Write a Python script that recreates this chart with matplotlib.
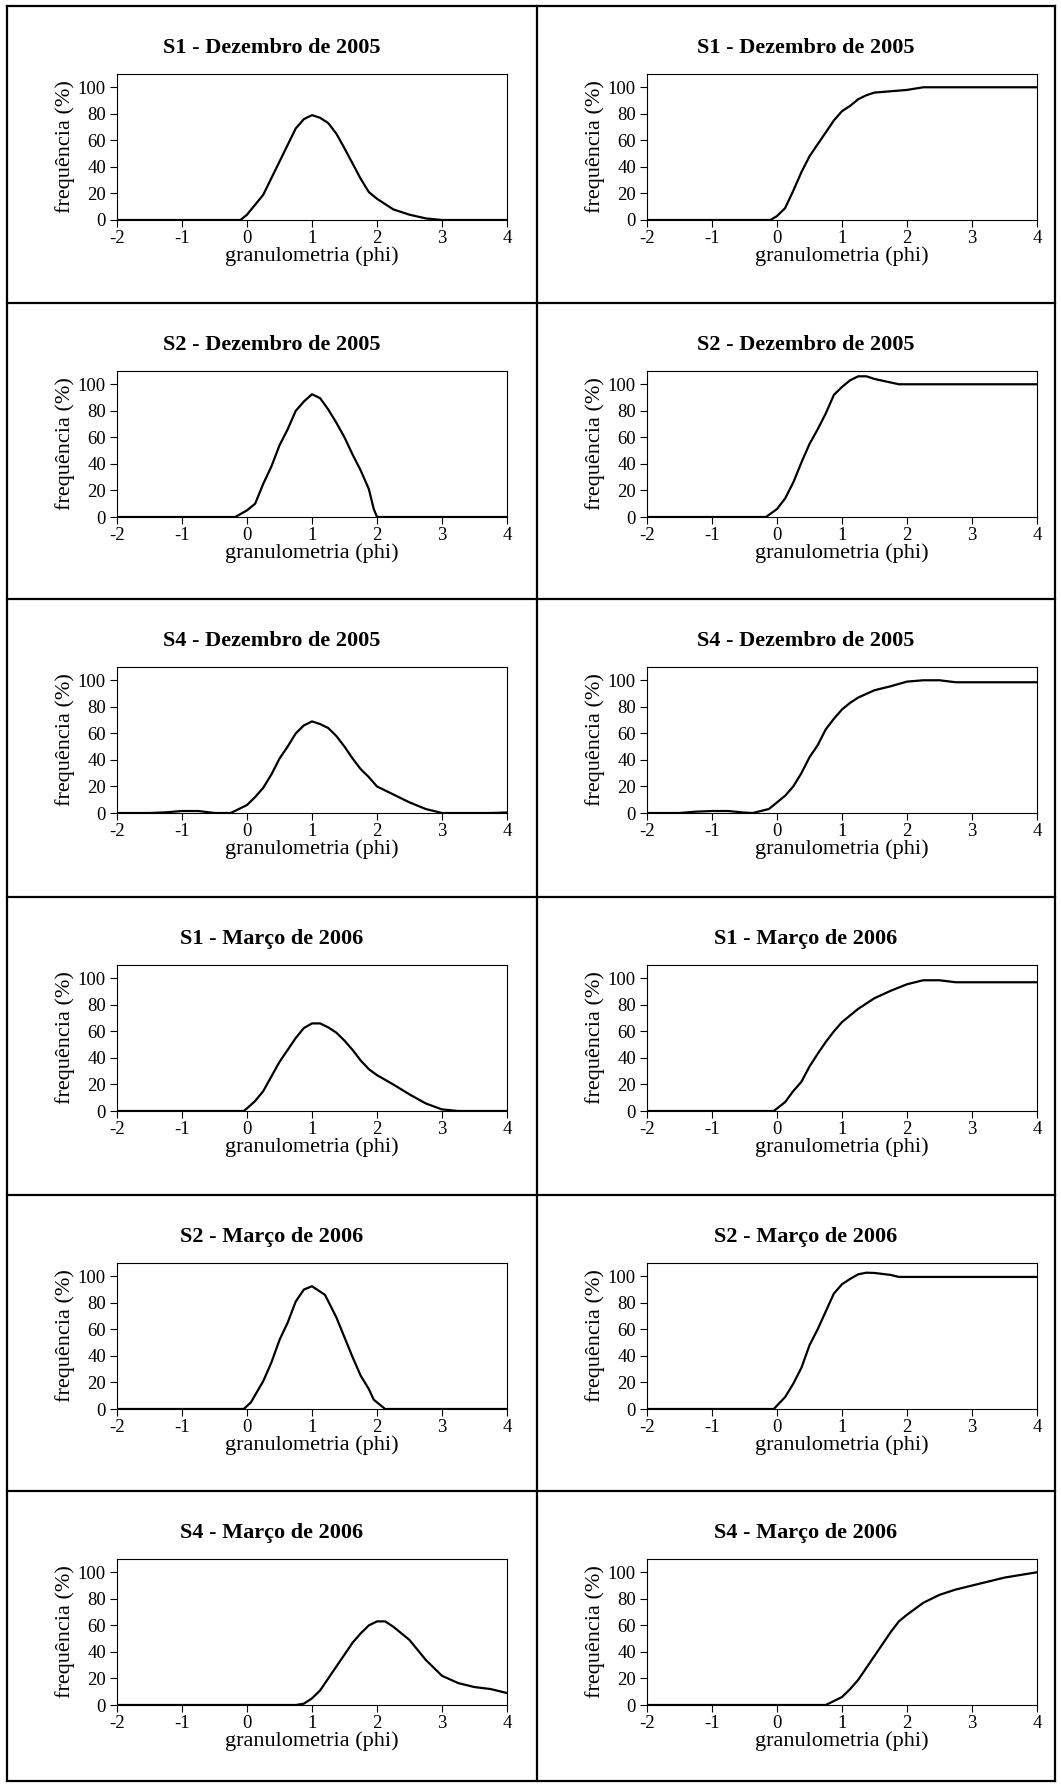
import matplotlib
matplotlib.use('Agg')
import matplotlib.pyplot as plt
from matplotlib.lines import Line2D

plt.rcParams['font.family'] = ['Liberation Serif', 'DejaVu Serif']
plt.rcParams['axes.unicode_minus'] = False

titles = ['S1 - Dezembro de 2005', 'S2 - Dezembro de 2005', 'S4 - Dezembro de 2005',
          'S1 - Março de 2006', 'S2 - Março de 2006', 'S4 - Março de 2006']

# frequencia simples (coluna esquerda) e acumulada (coluna direita)
s1_dez_x = [-2, -1.5, -1, -0.5, -0.1, 0, 0.25, 0.5, 0.75, 0.875, 1.0, 1.125, 1.25, 1.375, 1.5, 1.75, 1.875, 2.0, 2.25, 2.5, 2.75, 3.0, 3.5, 4.0]
s1_dez_y = [0, 0, 0, 0, 0, 4, 19, 44, 69, 76, 79, 77, 73, 65, 54, 31, 21, 16, 8, 4, 1.2, 0, 0, 0]
s1_dez_acum_x = [-2, -1, -0.1, 0, 0.125, 0.25, 0.375, 0.5, 0.625, 0.75, 0.875, 1.0, 1.125, 1.25, 1.375, 1.5, 1.75, 2.0, 2.25, 3.0, 4.0]
s1_dez_acum_y = [0, 0, 0, 3, 9, 22, 36, 48, 57, 66, 75, 82, 86, 91, 94, 96, 97, 98, 100, 100, 100]

s2_dez_x = [-2, -1, -0.18, 0, 0.125, 0.25, 0.375, 0.5, 0.625, 0.75, 0.875, 1.0, 1.125, 1.25, 1.375, 1.5, 1.625, 1.75, 1.875, 1.95, 2.0, 3.0, 4.0]
s2_dez_y = [0, 0, 0, 5, 10, 25, 38, 54, 66, 80, 87, 92.5, 89.5, 81, 71, 60, 47, 35, 21, 6, 0, 0, 0]
s2_dez_acum_x = [-2, -1, -0.17, 0, 0.125, 0.25, 0.375, 0.5, 0.625, 0.75, 0.875, 1.0, 1.125, 1.25, 1.375, 1.5, 1.875, 4.0]
s2_dez_acum_y = [0, 0, 0, 6, 14, 26, 41, 55, 66, 78, 92, 98, 103, 106, 106, 104, 100, 100]

s4_dez_x = [-2, -1.5, -1.25, -1, -0.75, -0.5, -0.25, 0, 0.125, 0.25, 0.375, 0.5, 0.625, 0.75, 0.875, 1.0, 1.125, 1.25, 1.375, 1.5, 1.625, 1.75, 1.875, 2.0, 2.25, 2.5, 2.75, 3.0, 3.5, 3.75, 4.0]
s4_dez_y = [0, 0, 0.5, 1.5, 1.5, 0, 0, 6, 12, 19, 29, 41, 50, 60, 66, 69, 67, 64, 58, 50, 41, 33, 27, 20, 14, 8, 3, 0, 0, 0, 0.4]
s4_dez_acum_x = [-2, -1.5, -1.25, -1, -0.75, -0.5, -0.375, -0.125, 0, 0.125, 0.25, 0.375, 0.5, 0.625, 0.75, 0.875, 1.0, 1.125, 1.25, 1.5, 1.75, 2.0, 2.25, 2.5, 2.75, 4.0]
s4_dez_acum_y = [0, 0, 1, 1.5, 1.5, 0.3, 0, 3, 8, 13, 20, 30, 42, 51, 63, 71, 78, 83, 87, 92.5, 95.5, 99, 100, 100, 98.5, 98.5]

s1_mar_x = [-2, -1, -0.05, 0, 0.125, 0.25, 0.375, 0.5, 0.625, 0.75, 0.875, 1.0, 1.125, 1.25, 1.375, 1.5, 1.625, 1.75, 1.875, 2.0, 2.25, 2.5, 2.75, 3.0, 3.25, 4.0]
s1_mar_y = [0, 0, 0, 2, 7.5, 15, 26, 37, 46, 55, 62.5, 66, 66, 63, 59, 53, 46, 38, 31.5, 27, 20, 12.5, 5.7, 1.2, 0, 0]
s1_mar_acum_x = [-2, -1, -0.05, 0.125, 0.25, 0.375, 0.5, 0.625, 0.75, 0.875, 1.0, 1.25, 1.5, 1.75, 2.0, 2.25, 2.5, 2.75, 4.0]
s1_mar_acum_y = [0, 0, 0, 6.7, 15, 22, 33.5, 43, 52, 60, 67, 77, 85, 90.6, 95.5, 98.5, 98.5, 97, 97]

s2_mar_x = [-2, -1, -0.05, 0.06, 0.25, 0.375, 0.5, 0.625, 0.75, 0.875, 1.0, 1.2, 1.375, 1.5, 1.625, 1.75, 1.875, 1.95, 2.125, 3.0, 4.0]
s2_mar_y = [0, 0, 0, 5, 21, 35, 52, 65, 81, 90, 92.5, 86, 69, 54, 39, 25, 15, 7, 0, 0, 0]
s2_mar_acum_x = [-2, -1, -0.05, 0.125, 0.25, 0.375, 0.5, 0.625, 0.75, 0.875, 1.0, 1.125, 1.25, 1.375, 1.5, 1.75, 1.875, 4.0]
s2_mar_acum_y = [0, 0, 0, 9, 19, 31, 48, 60, 73.5, 87, 94, 98, 101.5, 102.7, 102.5, 101, 99.5, 99.5]

s4_mar_x = [-2, -1, 0, 0.25, 0.75, 0.875, 1.0, 1.125, 1.25, 1.375, 1.5, 1.625, 1.75, 1.875, 2.0, 2.125, 2.25, 2.5, 2.75, 2.875, 3.0, 3.25, 3.5, 3.75, 4.0]
s4_mar_y = [0, 0, 0, 0, 0, 1, 5, 11, 20, 29, 38, 47, 54, 60, 63, 63, 59, 49, 34, 28, 22, 16.5, 13.5, 12, 9]
s4_mar_acum_x = [-2, -1, 0, 0.25, 0.75, 1.0, 1.125, 1.25, 1.375, 1.5, 1.625, 1.75, 1.875, 2.0, 2.25, 2.5, 2.75, 3.0, 3.25, 3.5, 3.75, 4.0]
s4_mar_acum_y = [0, 0, 0, 0, 0, 6, 12, 19, 28, 37, 46, 55, 63, 68, 77, 83, 87, 90, 93, 96, 98, 100]

xticks = [-2, -1, 0, 1, 2, 3, 4]
yticks = [0, 20, 40, 60, 80, 100]

rows = [
    (s1_dez_x, s1_dez_y, s1_dez_acum_x, s1_dez_acum_y),
    (s2_dez_x, s2_dez_y, s2_dez_acum_x, s2_dez_acum_y),
    (s4_dez_x, s4_dez_y, s4_dez_acum_x, s4_dez_acum_y),
    (s1_mar_x, s1_mar_y, s1_mar_acum_x, s1_mar_acum_y),
    (s2_mar_x, s2_mar_y, s2_mar_acum_x, s2_mar_acum_y),
    (s4_mar_x, s4_mar_y, s4_mar_acum_x, s4_mar_acum_y),
]

W, H = 1061, 1785
fig = plt.figure(figsize=(W / 100, H / 100), dpi=100)

row_tops = [6, 303, 599, 897, 1195, 1491]
bottom = 1781
xl, xm, xr = 7, 537, 1055

# moldura da tabela
def fline(x0, y0, x1, y1):
    fig.add_artist(Line2D([x0 / W, x1 / W], [1 - y0 / H, 1 - y1 / H],
                          transform=fig.transFigure, color='black', lw=1.6))

for y in row_tops + [bottom]:
    fline(xl, y, xr, y)
for x in [xl, xm, xr]:
    fline(x, row_tops[0], x, bottom)

col_ax_left = [117, 647]
col_title_x = [272, 806]
ax_w, ax_h = 390, 146

for i, (fx, fy, ax_, ay_) in enumerate(rows):
    ct = row_tops[i]
    for j, (xs, ys) in enumerate([(fx, fy), (ax_, ay_)]):
        ax = fig.add_axes([col_ax_left[j] / W, 1 - (ct + 214) / H, ax_w / W, ax_h / H])
        ax.plot(xs, ys, color='black', lw=1.6)
        ax.set_xlim(-2, 4)
        ax.set_ylim(0, 110)
        ax.set_xticks(xticks)
        ax.set_yticks(yticks)
        ax.tick_params(direction='out', length=5, width=0.8, labelsize=13.5, pad=3)
        ax.tick_params(axis='x', pad=2)
        for s in ax.spines.values():
            s.set_linewidth(0.8)
        ax.set_ylabel('frequência (%)', fontsize=16, labelpad=2)
        ax.set_xlabel('granulometria (phi)', fontsize=16, labelpad=0)
        fig.text(col_title_x[j] / W, 1 - (ct + 42) / H, titles[i], fontsize=16,
                 fontweight='bold', ha='center', va='center')

fig.savefig('out.png', dpi=100)
